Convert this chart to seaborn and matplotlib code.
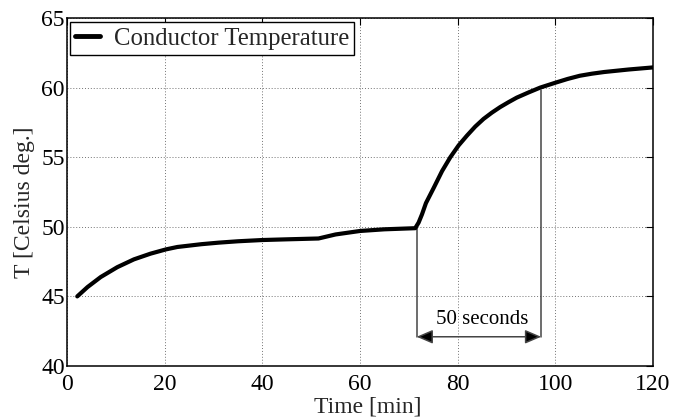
import numpy as np
import pandas as pd
import matplotlib
matplotlib.use('Agg')
import matplotlib.pyplot as plt
import seaborn as sns

# values
time_min = [2.1, 4.2, 6.9, 10.3, 13.7, 17.1, 20.3, 22.6, 27.5, 31, 35, 40, 45, 51.5, 55, 60, 65,
            71.3, 72, 72.7, 73.5, 75.1, 76.8, 78.5, 80.2, 81.9, 83.6, 85.3, 87, 88.7, 90.4,
            92.1, 94.5, 96.9, 100, 102.5, 105, 107.5, 110, 115, 120]
temp_c = [45.0, 45.67, 46.39, 47.1, 47.66, 48.07, 48.38, 48.55, 48.75, 48.86, 48.96, 49.05, 49.1,
          49.16, 49.45, 49.7, 49.82,
          49.9, 50.3, 50.9, 51.7, 52.8, 54.0, 55.0, 55.85, 56.55, 57.2, 57.75, 58.2, 58.6, 58.95,
          59.28, 59.65, 60.0, 60.35, 60.62, 60.85, 61.0, 61.12, 61.3, 61.45]

x_ticks = [0, 20, 40, 60, 80, 100, 120]
y_ticks = [40, 45, 50, 55, 60, 65]

# "50 seconds" marker
mark_start, mark_end = 71.6, 97.1
mark_start_top, mark_end_top = 49.9, 59.8
arrow_y = 42.1
note_x, note_y = 85.0, 43.35
note_text = '50 seconds'

df = pd.DataFrame({'Time': time_min, 'Temp': temp_c})

sns.set_style('white')
plt.rcParams['font.family'] = ['Liberation Serif', 'DejaVu Serif']

fig = plt.figure(figsize=(6.77, 4.17), dpi=100)
ax = fig.add_axes([67 / 677, 1 - 366 / 417, 586 / 677, 348 / 417])

sns.lineplot(data=df, x='Time', y='Temp', ax=ax, color='black', linewidth=3.0,
             label='Conductor Temperature', zorder=5)

ax.set_xlim(0, 120)
ax.set_ylim(40, 65)
ax.set_xticks(x_ticks)
ax.set_yticks(y_ticks)
ax.grid(True, linestyle=(0, (1, 2)), color='0.45', linewidth=0.7)
ax.tick_params(direction='in', top=True, right=True, length=5, width=0.8,
               labelsize=17, colors='black')
ax.tick_params(axis='x', pad=6)
ax.tick_params(axis='y', pad=1.5)
for s in ax.spines.values():
    s.set_color('black')
    s.set_linewidth(1.1)

ax.set_xlabel('Time [min]', fontsize=17)
ax.set_ylabel('T [Celsius deg.]', fontsize=17)
ax.xaxis.set_label_coords(0.513, -0.088)
ax.yaxis.set_label_coords(-0.055, 0.47)

# annotation lines and arrow
line_col = '#454545'
ax.plot([mark_start, mark_start], [arrow_y, mark_start_top], color=line_col, lw=1.1, zorder=4)
ax.plot([mark_end, mark_end], [arrow_y, mark_end_top], color=line_col, lw=1.1, zorder=4)
ax.annotate('', xy=(mark_end, arrow_y), xytext=(mark_start, arrow_y),
            arrowprops=dict(arrowstyle='<|-|>,head_length=0.7,head_width=0.3',
                            fc='black', ec=line_col, lw=1.1,
                            shrinkA=0, shrinkB=0, mutation_scale=14), zorder=4)
ax.text(note_x, note_y, note_text, fontsize=15, ha='center', va='center', color='black')

leg = ax.legend(loc='upper left', bbox_to_anchor=(0.005, 0.988), borderaxespad=0,
                fancybox=False, framealpha=1, edgecolor='black', fontsize=17.8,
                handlelength=1.0, handletextpad=0.55, borderpad=0.22)
leg.get_frame().set_linewidth(1.0)
for h in leg.get_lines():
    h.set_linewidth(3.5)

fig.savefig('out.png', dpi=100)
